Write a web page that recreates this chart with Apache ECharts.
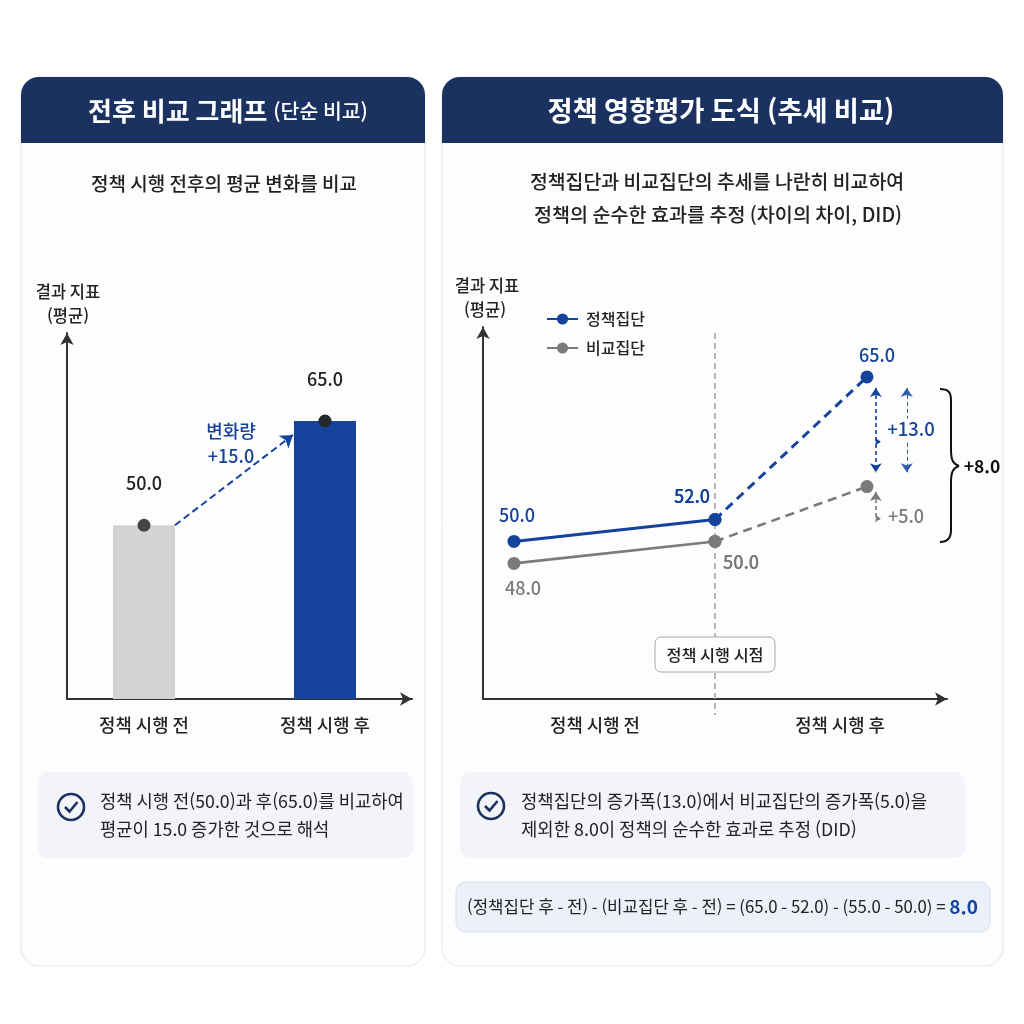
<!DOCTYPE html>
<html lang="ko">
<head>
<meta charset="utf-8">
<title>정책 시행 전후 비교와 DID</title>
<script src="https://cdn.jsdelivr.net/npm/echarts@6/dist/echarts.min.js"></script>
<style>html,body{margin:0;padding:0;background:#fff}#chart{width:1024px;height:1024px}</style>
</head>
<body>
<div id="chart"></div>
<script>
// Simple before/after comparison
const periods = ['정책 시행 전', '정책 시행 후'];
const simpleValues = [50, 65];

// Difference-in-differences trends
const trendTimes = [0, 1, 1.756];
const periodLabelTimes = [0.403, 1.622];
const policyValues = [50, 52, 65];
const compareValues = [48, 50, 55];

const NAVY = '#1b3261', BLUE = '#14439c', GREY = '#7a7a7a', INK = '#222222', AXIS = '#333333';
const FONT = '"Noto Sans CJK KR", "Noto Sans", sans-serif';
const fixed1 = v => v.toFixed(1);

// Draws one text item on the page layer
function text(x, y, content, size, color, weight, align, extra) {
  return {
    type: 'text', x, y, z: 20, silent: true,
    style: Object.assign({
      text: content, fontFamily: FONT, fontSize: size, fontWeight: weight || 400, fill: color || INK,
      align: align || 'center', textAlign: align || 'center',
      verticalAlign: 'middle', textVerticalAlign: 'middle'
    }, extra || {})
  };
}
function box(x, y, w, h, r, fill, stroke, z) {
  return {
    type: 'rect', z: z === undefined ? -5 : z, silent: true,
    shape: { x, y, width: w, height: h, r },
    style: { fill, stroke: stroke || null, lineWidth: stroke ? 1 : 0 }
  };
}
function checkIcon(cx, cy) {
  return [
    { type: 'circle', z: 20, silent: true, shape: { cx, cy, r: 13 }, style: { fill: null, stroke: NAVY, lineWidth: 2.6 } },
    { type: 'polyline', z: 20, silent: true,
      shape: { points: [[cx - 6, cy], [cx - 1.5, cy + 4.5], [cx + 6.5, cy - 5]] },
      style: { fill: null, stroke: NAVY, lineWidth: 2.6 } }
  ];
}
// The curly bracket grouping the two changes
function braceStroke(element) {
  return Object.assign({ z: 20, silent: true, style: { fill: null, stroke: '#111', lineWidth: 2 } }, element);
}
function curve(x1, y1, cpx1, cpy1, cpx2, cpy2, x2, y2) {
  return braceStroke({ type: 'bezierCurve', shape: { x1, y1, cpx1, cpy1, cpx2, cpy2, x2, y2 } });
}
function straight(x1, y1, x2, y2) {
  return braceStroke({ type: 'line', shape: { x1, y1, x2, y2 } });
}

// Page furniture: cards, headers, notes and annotations
const graphics = [
  box(21, 77, 404, 889, 18, '#fdfdfe', '#e3e5ea'),
  box(442, 77, 561, 889, 18, '#fdfdfe', '#e3e5ea'),
  box(21, 77, 404, 66, [18, 18, 0, 0], NAVY, null, -4),
  box(442, 77, 561, 66, [18, 18, 0, 0], NAVY, null, -4),
  text(228, 111, '{a|전후 비교 그래프} {b|(단순 비교)}', 26, '#fff', 700, 'center', {
    rich: {
      a: { fontFamily: FONT, fontSize: 26, fontWeight: 700, fill: '#fff', color: '#fff' },
      b: { fontFamily: FONT, fontSize: 20.5, fontWeight: 500, fill: '#fff', color: '#fff' }
    }
  }),
  text(721, 111, '정책 영향평가 도식 (추세 비교)', 27.3, '#fff', 700),
  text(224, 184, '정책 시행 전후의 평균 변화를 비교', 19, INK, 500),
  text(717, 182, '정책집단과 비교집단의 추세를 나란히 비교하여', 19.4, INK, 500),
  text(718, 215, '정책의 순수한 효과를 추정 (차이의 차이, DID)', 19.6, INK, 500),
  text(68, 292, '결과 지표', 16.5, INK, 500),
  text(68, 316, '(평균)', 16.5, INK, 500),
  text(487, 286, '결과 지표', 16.5, INK, 500),
  text(485, 310, '(평균)', 16.5, INK, 500),
  text(231, 431, '변화량', 18, BLUE, 500),
  text(231, 456, '+15.0', 18, BLUE, 500),
  box(655, 637, 120, 35, 6, '#fdfdfe', '#a8a8a8', 15),
  text(715, 655, '정책 시행 시점', 16.3, INK, 500),
  text(911, 429, '+13.0', 18.5, BLUE, 500),
  text(906, 516, '+5.0', 18, GREY, 500),
  text(982, 466, '+8.0', 17.5, '#111', 700),
  curve(940, 389, 948, 389, 951, 392, 951, 400),
  straight(951, 400, 951, 450),
  curve(951, 450, 951, 460, 953, 464, 959, 466),
  curve(959, 466, 953, 468, 951, 472, 951, 482),
  straight(951, 482, 951, 530),
  curve(951, 530, 951, 538, 948, 542, 940, 542),
  box(38, 772, 375, 86, 10, '#f2f4f9'),
  ...checkIcon(71, 807),
  text(100, 801, '정책 시행 전(50.0)과 후(65.0)를 비교하여', 17.7, INK, 400, 'left'),
  text(100, 829, '평균이 15.0 증가한 것으로 해석', 17.7, INK, 400, 'left'),
  box(460, 772, 505, 86, 10, '#f2f4f9'),
  ...checkIcon(491, 806),
  text(521, 801, '정책집단의 증가폭(13.0)에서 비교집단의 증가폭(5.0)을', 17.8, INK, 400, 'left'),
  text(521, 829, '제외한 8.0이 정책의 순수한 효과로 추정 (DID)', 17.8, INK, 400, 'left'),
  box(456, 882, 534, 50, 10, '#ecf1f9', '#d6dfee'),
  text(467, 907, '{a|(정책집단 후 - 전) - (비교집단 후 - 전) = (65.0 - 52.0) - (55.0 - 50.0) = }{b|8.0}', 16.8, INK, 400, 'left', {
    rich: {
      a: { fontFamily: FONT, fontSize: 16.8, fontWeight: 400, fill: INK, color: INK },
      b: { fontFamily: FONT, fontSize: 19, fontWeight: 700, fill: BLUE, color: BLUE }
    }
  })
];

// Shared look of the bare arrow axes
function arrowAxis(extra) {
  return Object.assign({
    type: 'value',
    axisLine: { show: true, onZero: false, symbol: ['none', 'arrow'], symbolSize: [10, 12], symbolOffset: [0, 0], lineStyle: { color: AXIS, width: 2 } },
    axisTick: { show: false },
    splitLine: { show: false }
  }, extra);
}
function xAxisFor(grid, min, max, at, labels) {
  return arrowAxis({
    gridIndex: grid, min, max,
    axisLabel: {
      customValues: at, margin: 17, color: INK, fontFamily: FONT, fontSize: 17.8, fontWeight: 500,
      formatter: v => labels[at.indexOf(v)], showMinLabel: true, showMaxLabel: true, hideOverlap: false
    }
  });
}
function yAxisFor(grid, min, max) {
  return arrowAxis({ gridIndex: grid, min, max, axisLabel: { show: false } });
}

const valueLabel = (size, color, offset) => ({
  show: true, position: 'inside', align: 'center', verticalAlign: 'middle', offset,
  color, fontFamily: FONT, fontSize: size, fontWeight: 500, formatter: p => fixed1(p.value[1])
});

// One trend point, carrying its value label when it has an offset
function trendPoint(i, values, labelColor, offset) {
  const point = { value: [trendTimes[i], values[i]] };
  point.label = offset ? valueLabel(18, labelColor, offset) : { show: false };
  return point;
}
function trendSeries(name, values, from, to, color, dashed, offsets) {
  const data = [];
  for (let i = from; i <= to; i++) data.push(trendPoint(i, values, color, offsets[i]));
  return {
    name, type: 'line', xAxisIndex: 1, yAxisIndex: 1, data, z: dashed ? 4 : 5,
    symbol: 'circle', symbolSize: 13, showSymbol: true,
    lineStyle: { color, width: 3, type: dashed ? [9, 6] : 'solid' },
    itemStyle: { color }
  };
}

const policyOffsets = { 0: [3, -26], 1: [-23, -23], 2: [10, -22] };
const compareOffsets = { 0: [9, 25], 1: [26, 21] };

const blueDashed = trendSeries('정책집단 추세', policyValues, 1, 2, BLUE, true, policyOffsets);
blueDashed.markLine = {
  silent: true, animation: false, label: { show: false }, symbol: ['arrow', 'arrow'], symbolSize: 9,
  lineStyle: { color: BLUE, width: 1.6, type: [4, 3] },
  data: [
    [{ coord: [1.8, 64] }, { coord: [1.8, 56.3] }],
    [{ coord: [1.8, 59.1], symbol: 'none' }, { coord: [1.825, 59.1], symbol: 'arrow', symbolSize: 6 }],
    [{ coord: [1.954, 64], symbol: 'arrow', lineStyle: { width: 1, color: '#2f5cab', type: [4, 3] } }, { coord: [1.954, 61.2], symbol: 'none' }],
    [{ coord: [1.954, 59], symbol: 'none', lineStyle: { width: 1, color: '#2f5cab', type: [4, 3] } }, { coord: [1.954, 56.3], symbol: 'arrow' }]
  ]
};
const greyDashed = trendSeries('비교집단 추세', compareValues, 1, 2, GREY, true, compareOffsets);
greyDashed.lineStyle.width = 2.6;
greyDashed.markLine = {
  silent: true, animation: false, label: { show: false }, symbol: ['arrow', 'none'], symbolSize: 9,
  lineStyle: { color: GREY, width: 1.6, type: [4, 3] },
  data: [
    [{ coord: [1.8, 54.5] }, { coord: [1.8, 52.1] }],
    [{ coord: [1.8, 52.1], symbol: 'none' }, { coord: [1.825, 52.1], symbol: 'arrow', symbolSize: 6 }]
  ]
};
const greySolid = trendSeries('비교집단', compareValues, 0, 1, GREY, false, compareOffsets);
greySolid.lineStyle.width = 2.6;

const option = {
  backgroundColor: '#ffffff',
  animation: false,
  textStyle: { fontFamily: FONT },
  graphic: { elements: graphics },
  grid: [
    { left: 67, right: 612, top: 333, bottom: 325 },
    { left: 483, right: 77, top: 327, bottom: 325 }
  ],
  xAxis: [
    xAxisFor(0, -0.4254, 1.4807, [0, 1], periods),
    xAxisFor(1, -0.154, 2.154, periodLabelTimes, periods)
  ],
  yAxis: [yAxisFor(0, 25, 77.66), yAxisFor(1, 35.64, 69.55)],
  legend: {
    left: 546, top: 311, padding: 0, orient: 'vertical', itemWidth: 31, itemHeight: 14, itemGap: 13,
    data: ['정책집단', '비교집단'],
    textStyle: { color: INK, fontFamily: FONT, fontSize: 16, fontWeight: 500, padding: [0, 0, 0, 3] }
  },
  series: [
    {
      name: '정책 시행 전후', type: 'bar', xAxisIndex: 0, yAxisIndex: 0, barWidth: 62,
      data: simpleValues.map((v, i) => ({
        value: [i, v],
        itemStyle: { color: i === 0 ? '#d3d3d3' : '#15439b' }
      })),
      label: {
        show: true, position: 'top', distance: 33, color: INK, fontFamily: FONT, fontSize: 18, fontWeight: 500,
        formatter: p => fixed1(p.value[1])
      },
      markLine: {
        silent: true, animation: false, label: { show: false }, symbol: ['none', 'arrow'], symbolSize: 12,
        lineStyle: { color: BLUE, width: 2, type: [7, 4] },
        data: [[{ coord: [0.171, simpleValues[0]] }, { coord: [0.823, 63] }]]
      }
    },
    {
      name: '평균점', type: 'scatter', xAxisIndex: 0, yAxisIndex: 0, symbolSize: 13, z: 6,
      data: simpleValues.map((v, i) => ({
        value: [i, v],
        itemStyle: { color: i === 0 ? '#444444' : '#24272b', opacity: 1 }
      }))
    },
    {
      name: '정책 시행 시점', type: 'line', xAxisIndex: 1, yAxisIndex: 1, clip: false, symbol: 'none', z: 1, silent: true,
      lineStyle: { color: '#9a9a9a', width: 1.4, type: [6, 4] },
      data: [[trendTimes[1], 69], [trendTimes[1], 34.18]]
    },
    greySolid,
    greyDashed,
    trendSeries('정책집단', policyValues, 0, 1, BLUE, false, policyOffsets),
    blueDashed
  ]
};

const chart = echarts.init(document.getElementById('chart'));
chart.setOption(option);
</script>
</body>
</html>
